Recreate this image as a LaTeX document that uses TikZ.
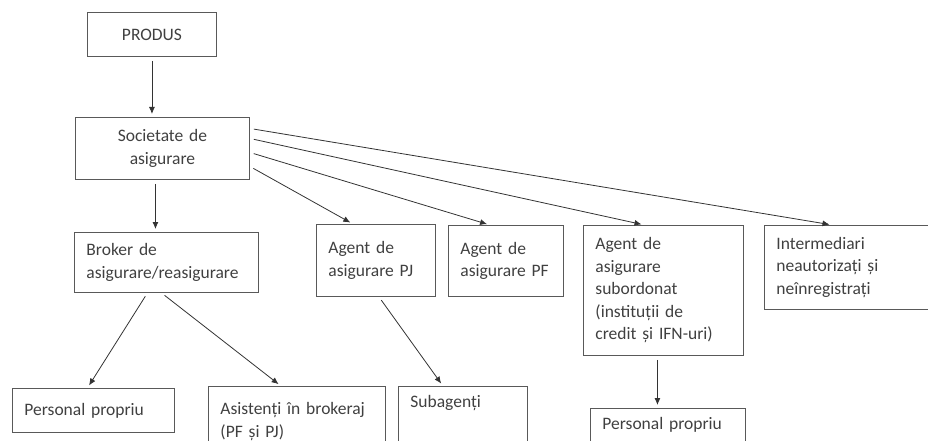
\documentclass[tikz,border=0pt]{standalone}
\usepackage{fontspec}
\setmainfont{Carlito}
\usepackage{tikz}
\usetikzlibrary{arrows.meta}
\tikzset{
  box/.style={draw=black!65, line width=0.9pt, anchor=north west, inner xsep=12pt,
    inner ysep=9pt, align=left, text=black!75, font=\fontsize{17.5}{22.5}\selectfont},
  arr/.style={draw=black!80, line width=0.8pt, -{Latex[length=7pt,width=6pt]},
    shorten >=3pt, shorten <=4pt},
}

\begin{document}
\begin{tikzpicture}[x=1pt,y=-1pt]
                \useasboundingbox (0,0) rectangle (928,441);
                \clip (0,0) rectangle (928,441);

                \node[box, align=center, text width=105pt, minimum height=44pt] (P) at (87,12) {PRODUS};
                \node[box, align=center, text width=150pt, minimum height=62pt] (SA) at (75,117) {Societate de\\asigurare};
                \node[box, text width=160pt, minimum height=60pt] (BR) at (74,232) {Broker de\\asigurare/reasigurare};
                \node[box, text width=95pt, minimum height=72pt] (APJ) at (316,224) {Agent de\\asigurare PJ};
                \node[box, text width=91pt, minimum height=71pt] (APF) at (448,225) {Agent de\\asigurare PF};
                \node[box, text width=136pt, minimum height=130pt] (AS) at (583,225) {Agent de\\asigurare\\subordonat\\(instituții de\\credit și IFN-uri)};
                \node[box, text width=146pt, minimum height=84pt] (INT) at (764,225) {Intermediari\\neautorizați și\\neînregistrați};
                \node[box, text width=138pt, minimum height=44pt] (PP1) at (12,388) {Personal propriu};
                \node[box, text width=153pt, minimum height=70pt] (ASI) at (208,386) {Asistenți în brokeraj\\(PF și PJ)};
                \node[box, text width=105pt, text depth=40pt] (SUB) at (398,386) {Subagenți};
                \node[box, text width=131pt, text depth=30pt] (PP2) at (590,408) {Personal propriu};

                \draw[arr] (P.south) -- (P.south |- SA.north);
                \draw[arr] ([xshift=-7pt]SA.south) -- ([xshift=-7pt]SA.south |- BR.north);
                \draw[arr] ([yshift=-18pt]SA.east) -- ([xshift=-23pt]APJ.north);
                \draw[arr] ([yshift=-4pt]SA.east) -- ([xshift=-16pt]APF.north);
                \draw[arr] ([yshift=10pt]SA.east) -- ([xshift=-19pt]AS.north);
                \draw[arr] ([yshift=20pt]SA.east) -- ([xshift=-17pt]INT.north);
                \draw[arr] ([xshift=-19pt]BR.south) -- ([xshift=-6pt]PP1.north);
                \draw[arr] ([xshift=-5pt]BR.south) -- ([xshift=-16pt]ASI.north);
                \draw[arr] ([xshift=3pt]APJ.south) -- ([xshift=-20pt]SUB.north);
                \draw[arr] ([xshift=-6pt]AS.south) -- ([xshift=-6pt]AS.south |- PP2.north);
            \end{tikzpicture}
\end{document}
